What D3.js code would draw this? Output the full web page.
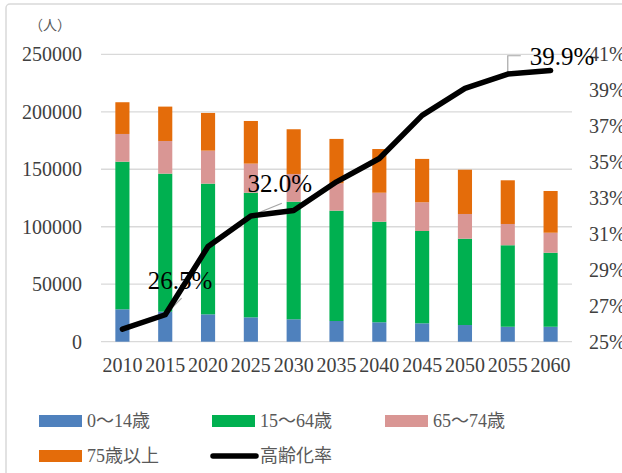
<!DOCTYPE html>
<html lang="ja">
<head>
    <meta charset="UTF-8">
    <title>人口推計と高齢化率</title>
    <script src="https://d3js.org/d3.v7.min.js"></script>
    <style>
        body { margin: 0; background: #fff; }
        text { font-family: "Liberation Serif", "Noto Sans CJK JP", serif; }
        .grid line { stroke: #d9d9d9; stroke-width: 1.3; }
        .tick-label { fill: #404040; font-size: 20px; }
        .legend text { fill: #595959; font-size: 18px; }
        .note { fill: #000; font-size: 25px; }
        .leader { stroke: #a6a6a6; stroke-width: 1.2; fill: none; }
    </style>
</head>
<body>
<script>
    const width = 622;
    const height = 473;

    // data
    const years     = ["2010","2015","2020","2025","2030","2035","2040","2045","2050","2055","2060"];
    const age0_14   = [28200, 26100, 23800, 21200, 19500, 18000, 16900, 16000, 14500, 13000, 13000];
    const age15_64  = [128400,120100,113700,108400,102300, 96000, 87500, 80300, 75100, 70900, 64400];
    const age65_74  = [24100, 28400, 28700, 25300, 24100, 23800, 25200, 25000, 21500, 18500, 17400];
    const age75plus = [27600, 29900, 32800, 37100, 38900, 38600, 38000, 37700, 38500, 38000, 36300];
    const agingRate = [25.7, 26.5, 30.3, 32.0, 32.3, 33.9, 35.2, 37.6, 39.1, 39.9, 40.1];

    const leftTicks  = [0, 50000, 100000, 150000, 200000, 250000];
    const rightTicks = [25, 27, 29, 31, 33, 35, 37, 39, 41];

    const seriesNames  = ["0～14歳", "15～64歳", "65～74歳", "75歳以上"];
    const seriesColors = ["#4f81bd", "#00b050", "#d99694", "#e46c0a"];
    const lineName = "高齢化率";

    const plot = {left: 101, right: 572, top: 54.3, bottom: 341.7};

    const svg = d3.select("body").append("svg")
            .attr("width", width).attr("height", height);

    // chart frame
    svg.append("rect")
            .attr("x", 6).attr("y", 4)
            .attr("width", 660).attr("height", 520)
            .attr("rx", 4)
            .attr("fill", "none")
            .attr("stroke", "#d9d9d9").attr("stroke-width", 1.5);

    const x = d3.scaleBand()
            .domain(years)
            .range([plot.left, plot.right])
            .paddingInner(0.67).paddingOuter(0.335);
    const yL = d3.scaleLinear().domain([0, 250000]).range([plot.bottom, plot.top]);
    const yR = d3.scaleLinear().domain([25, 41]).range([plot.bottom, plot.top]);
    const cx = d => x(d) + x.bandwidth() / 2;

    // gridlines
    svg.append("g").attr("class", "grid")
            .selectAll("line").data(leftTicks).enter()
            .append("line")
            .attr("x1", plot.left).attr("x2", plot.right)
            .attr("y1", d => yL(d)).attr("y2", d => yL(d));

    // stacked bars
    const table = years.map((y, i) => ({
        year: y,
        s0: age0_14[i], s1: age15_64[i], s2: age65_74[i], s3: age75plus[i]
    }));
    const stack = d3.stack().keys(["s0", "s1", "s2", "s3"])(table);

    svg.append("g").selectAll("g")
            .data(stack).enter()
            .append("g")
            .attr("fill", (d, i) => seriesColors[i])
            .selectAll("rect")
            .data(d => d).enter()
            .append("rect")
            .attr("x", d => x(d.data.year))
            .attr("width", x.bandwidth())
            .attr("y", d => yL(d[1]))
            .attr("height", d => yL(d[0]) - yL(d[1]));

    // left axis labels
    svg.append("g").selectAll("text")
            .data(leftTicks).enter()
            .append("text")
            .attr("class", "tick-label")
            .attr("x", 82).attr("y", d => yL(d))
            .attr("dy", "0.35em")
            .attr("text-anchor", "end")
            .text(d => d);

    // right axis labels
    svg.append("g").selectAll("text")
            .data(rightTicks).enter()
            .append("text")
            .attr("class", "tick-label")
            .attr("x", 589).attr("y", d => yR(d))
            .attr("dy", "0.35em")
            .text(d => d + "%");

    // x labels
    svg.append("g").selectAll("text")
            .data(years).enter()
            .append("text")
            .attr("class", "tick-label")
            .attr("x", d => cx(d)).attr("y", 372)
            .attr("text-anchor", "middle")
            .text(d => d);

    svg.append("text")
            .attr("x", 29).attr("y", 30)
            .attr("fill", "#595959")
            .style("font-size", "14px")
            .text("（人）");

    // aging rate line
    const line = d3.line()
            .x((d, i) => cx(years[i]))
            .y(d => yR(d));

    // labels on 2015, 2025, 2055 with leader lines
    const notes = [
        {i: 1, dx: -17.6, dy: -25.7, leader: [[16.4, -16.7]]},
        {i: 3, dx: -3.4,  dy: -24.3, leader: [[31, -12.7]]},
        {i: 9, dx: 22,    dy: -9,    leader: [[0, -18.3], [13, -18.3]]}
    ];

    svg.append("g").selectAll("path")
            .data(notes).enter()
            .append("path")
            .attr("class", "leader")
            .attr("d", n => {
                const px = cx(years[n.i]), py = yR(agingRate[n.i]);
                return "M" + px + "," + py +
                        n.leader.map(p => "L" + (px + p[0]) + "," + (py + p[1])).join("");
            });

    svg.append("path")
            .datum(agingRate)
            .attr("d", line)
            .attr("fill", "none")
            .attr("stroke", "#000")
            .attr("stroke-width", 5.5)
            .attr("stroke-linejoin", "round")
            .attr("stroke-linecap", "round");

    svg.append("g").selectAll("text")
            .data(notes).enter()
            .append("text")
            .attr("class", "note")
            .attr("x", n => cx(years[n.i]) + n.dx)
            .attr("y", n => yR(agingRate[n.i]) + n.dy)
            .text(n => agingRate[n.i].toFixed(1) + "%");

    // legend
    const legendItems = [
        {name: seriesNames[0], color: seriesColors[0], x: 39,  y: 415},
        {name: seriesNames[1], color: seriesColors[1], x: 212, y: 415},
        {name: seriesNames[2], color: seriesColors[2], x: 385, y: 415},
        {name: seriesNames[3], color: seriesColors[3], x: 39,  y: 450},
        {name: lineName, color: "#000", x: 212, y: 450, line: true}
    ];

    const lg = svg.append("g").attr("class", "legend")
            .selectAll("g").data(legendItems).enter()
            .append("g")
            .attr("transform", d => `translate(${d.x},${d.y})`);

    lg.filter(d => !d.line).append("rect")
            .attr("width", 43).attr("height", 12)
            .attr("fill", d => d.color);
    lg.filter(d => d.line).append("line")
            .attr("x1", 1).attr("x2", 44)
            .attr("y1", 6).attr("y2", 6)
            .attr("stroke", "#000").attr("stroke-width", 5.5)
            .attr("stroke-linecap", "round");
    lg.append("text")
            .attr("x", 48).attr("y", 12)
            .text(d => d.name);
</script>
</body>
</html>
